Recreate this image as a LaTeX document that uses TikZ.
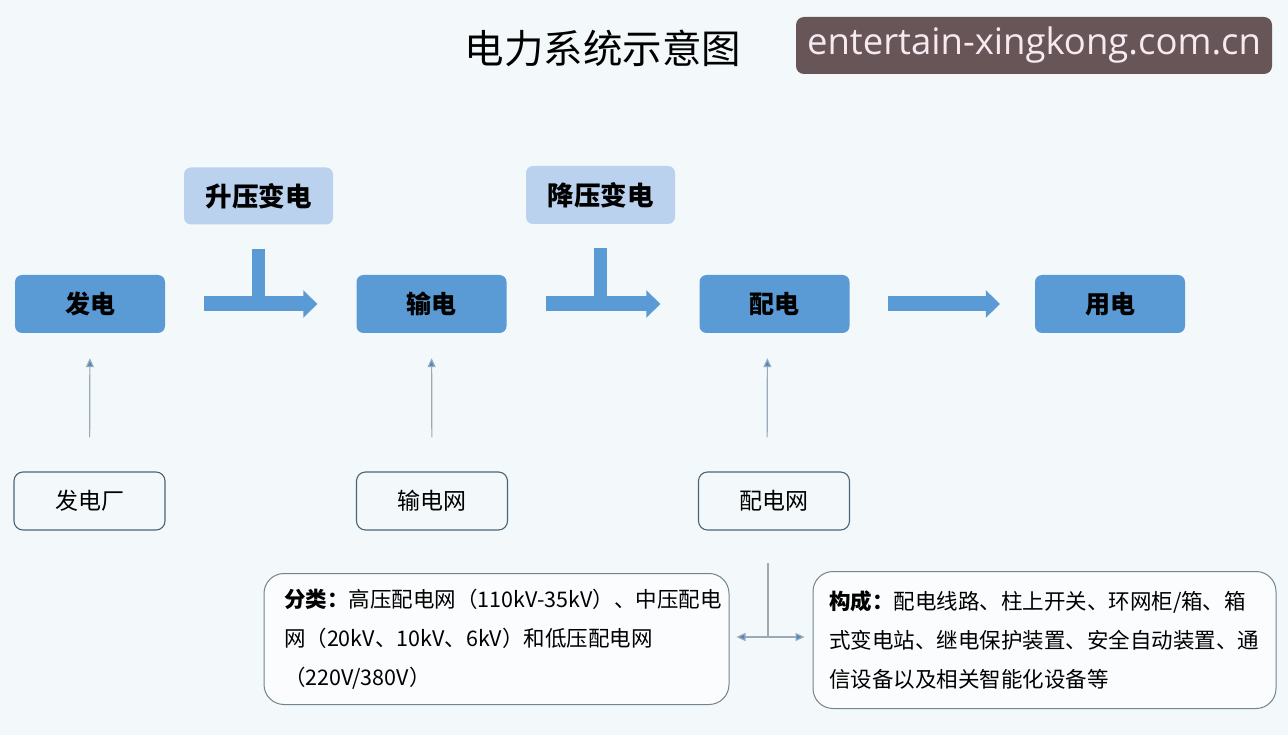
\documentclass[tikz,border=0pt]{standalone}
\usepackage{fontspec}
\newfontfamily\cjk{Noto Sans CJK SC}
\newfontfamily\wmfont{Open Sans}
\usetikzlibrary{arrows.meta}
\definecolor{bg}{HTML}{F3F8FA}
\definecolor{mainblue}{HTML}{5B9BD5}
\definecolor{lightblue}{HTML}{BBD2EE}
\definecolor{thinline}{HTML}{9AABB6}
\definecolor{tipblue}{HTML}{4A88CC}
\definecolor{outline}{HTML}{4C6575}
\definecolor{wmfill}{HTML}{675558}
\definecolor{wmtext}{HTML}{F6E9EF}
\tikzset{
  mainbox/.style={fill=mainblue, rounded corners=7pt, minimum width=150pt, minimum height=58pt, inner sep=0pt, font=\cjk\bfseries\fontsize{25}{28}\selectfont},
  topbox/.style={fill=lightblue, rounded corners=7pt, minimum width=149pt, minimum height=57pt, inner sep=0pt, font=\cjk\bfseries\fontsize{26.5}{29}\selectfont},
  srcbox/.style={draw=outline, line width=1.1pt, fill=bg, rounded corners=9pt, minimum width=151pt, minimum height=58pt, inner sep=0pt, font=\cjk\fontsize{23}{26}\selectfont},
  infobox/.style={draw=outline!80, line width=1pt, fill=white!60!bg, rounded corners=20pt, inner sep=0pt, align=left, font=\cjk\fontsize{21.5}{39}\selectfont},
  blockarrow/.style={draw=mainblue, line width=15pt, -{Triangle[length=14pt,width=27pt]}, shorten <=39pt, shorten >=39pt},
  stembar/.style={draw=mainblue, line width=13pt},
  thinarrow/.style={draw=thinline, line width=1.2pt, -{Triangle[length=9pt,width=8pt,fill=tipblue]}},
  thinline/.style={draw=thinline, line width=1.2pt}
}
\begin{document}
\begin{tikzpicture}[x=1pt,y=-1pt]
\fill[bg] (0,0) rectangle (1288,735);
\useasboundingbox (0,0) rectangle (1288,735);

% title and watermark
\node[font=\cjk\fontsize{39.5}{42}\selectfont] (title) at (603,48) {电力系统示意图};
\node[fill=wmfill, rounded corners=8pt, minimum width=476pt, minimum height=57pt, inner sep=0pt, text=wmtext, font=\wmfont\fontsize{36.5}{38}\selectfont] (wm) at (1034,45.5) {\raisebox{-2pt}{entertain-xingkong.com.cn}};

% top boxes
\node[topbox] (up) at (258.5,196) {升压变电};
\node[topbox, minimum height=58pt] (down) at (600.5,195) {降压变电};

% main boxes
\node[mainbox] (fd) at (90,304) {发电};
\node[mainbox] (sd) at (431.5,304) {输电};
\node[mainbox] (pd) at (774.5,304) {配电};
\node[mainbox] (yd) at (1110,304) {用电};

% source boxes
\node[srcbox] (fdc) at (89.5,501) {发电厂};
\node[srcbox] (sdw) at (432,501) {输电网};
\node[srcbox] (pdw) at (774,501) {配电网};

% block arrows
\draw[stembar] ([yshift=-24pt]up.south) -- (up.south |- fd.center);
\draw[stembar] ([yshift=-24pt]down.south) -- (down.south |- fd.center);
\draw[blockarrow] (fd) -- (sd);
\draw[blockarrow] (sd) -- (pd);
\draw[blockarrow, shorten <=38pt, shorten >=35pt] (pd) -- (yd);

% thin arrows
\draw[thinarrow, shorten <=34pt, shorten >=25pt] (fdc.north) -- (fd.south);
\draw[thinarrow, shorten <=34pt, shorten >=25pt] (sdw.north) -- (sd.south);
\draw[thinarrow, shorten <=34pt, shorten >=25pt] ([xshift=-7pt]pdw.north) -- ([xshift=-7pt]pd.south);

% info boxes
\node[infobox, minimum width=465pt, minimum height=131pt, text width=425pt] (fl) at (496.5,639)
  {\mbox{\textbf{分类：}高压配电网（110kV-35kV）、中压配电}\\\mbox{网（20kV、10kV、6kV）和低压配电网}\\\mbox{（220V/380V）}};
\node[infobox, minimum width=463pt, minimum height=137pt, text width=431pt] (gc) at (1044.5,640)
  {\mbox{\textbf{构成：}配电线路、柱上开关、环网柜/箱、箱}\\\mbox{式变电站、继电保护装置、安全自动装置、通}\\\mbox{信设备以及相关智能化设备等}};

\coordinate (j) at (768,637);
\draw[thinline, shorten <=32pt] ([xshift=-6pt]pdw.south) -- (j);
\draw[thinarrow, shorten >=7pt] (j) -- (j -| fl.east);
\draw[thinarrow, shorten >=8pt] (j) -- (j -| gc.west);
\end{tikzpicture}
\end{document}
